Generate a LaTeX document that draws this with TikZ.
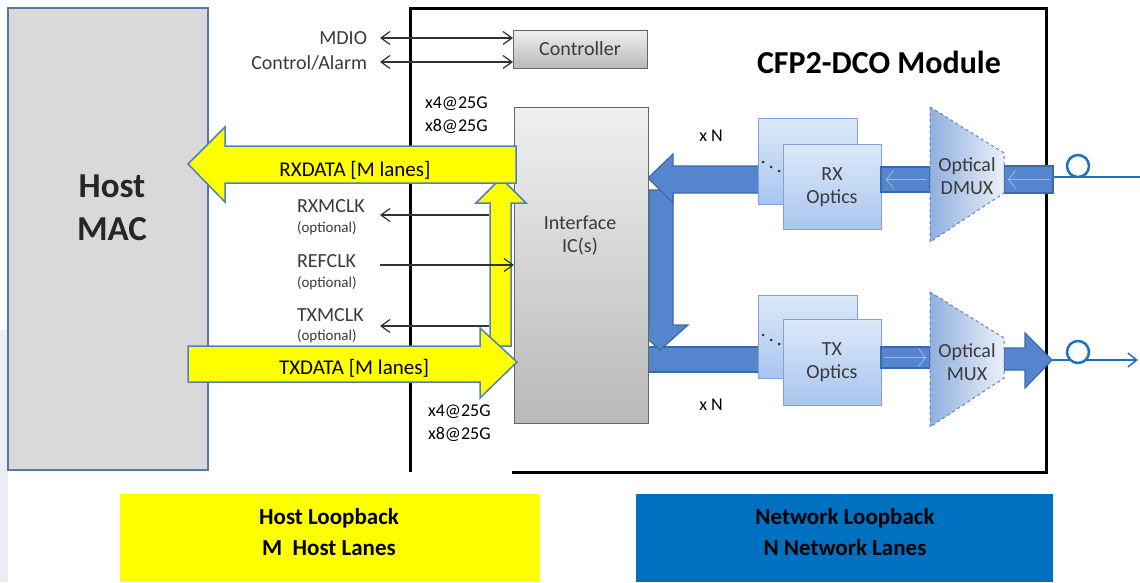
\documentclass[tikz,border=0pt]{standalone}
\usepackage{fontspec}
\setmainfont{Carlito}
\usetikzlibrary{arrows.meta}
\definecolor{bfill}{HTML}{5585CC}
\definecolor{bdraw}{HTML}{3A6AAE}
\definecolor{yfill}{HTML}{FFFF00}
\definecolor{ydraw}{HTML}{4F81BD}
\definecolor{hostfill}{HTML}{D9D9D9}
\definecolor{hostdraw}{HTML}{5577A8}
\definecolor{netbox}{HTML}{0070C0}
\definecolor{optop}{HTML}{DDE9FA}
\definecolor{opbot}{HTML}{A8C5EE}
\definecolor{opdraw}{HTML}{7FA3D9}
\definecolor{labelgray}{HTML}{3A3A3A}
\definecolor{linegray}{HTML}{333333}
\definecolor{fiber}{HTML}{1F70C1}
\definecolor{edge}{HTML}{ECECF5}
\begin{document}
\begin{tikzpicture}[x=1pt,y=-1pt,
  every node/.style={inner sep=0pt,outer sep=0pt},
  lbl/.style={font=\fontsize{20}{23}\selectfont,text=labelgray},
  optl/.style={font=\fontsize{15}{18}\selectfont,text=labelgray},
  rate/.style={font=\fontsize{18}{23}\selectfont,text=black,align=left,anchor=west},
  thinarr/.style={draw=linegray,line width=1.2pt,arrows={-Straight Barb[length=9pt,width=13pt]}},
  dblarr/.style={draw=linegray,line width=1.2pt,arrows={Straight Barb[length=9pt,width=13pt]-Straight Barb[length=9pt,width=13pt]}},
  graybox/.style={draw=gray!80!black,line width=0.8pt,top color=gray!12,bottom color=gray!55},
  opcard/.style={draw=opdraw,line width=1pt,top color=optop,bottom color=opbot},
  yarrow/.style={fill=yfill,draw=ydraw,line width=1.5pt,line join=miter},
  barrow/.style={fill=bfill,draw=bdraw,line width=1.2pt,line join=miter},
  faint/.style={draw=bfill!55!white,line width=0.8pt,arrows={-Straight Barb[length=7pt,width=18pt]}},
  mux/.style={draw=bfill,dashed,line width=1pt,left color=bfill!65!white,right color=bfill!12!white},
  bottxt/.style={font=\bfseries\fontsize{23}{31}\selectfont,align=center,text=black}
]
\useasboundingbox (0,0) rectangle (1140,582);
\fill[edge] (0,330) rectangle (8,582);

% Host MAC
\node[draw=hostdraw,fill=hostfill,line width=2.5pt,minimum width=200pt,minimum height=462pt] (host) at (108,239) {};
\node[font=\bfseries\fontsize{35}{43}\selectfont,align=center,text=black!85] (hostlbl) at (112,208) {Host\\MAC};

% module border
\draw[line width=3pt,line join=miter] (512,472) -- (1046,472) -- (1046,8) -- (410,8) -- (410,472);
\node[font=\bfseries\fontsize{32}{36}\selectfont] (title) at (879,62) {CFP2-DCO Module};

% controller
\node[graybox,minimum width=134pt,minimum height=38pt,lbl] (ctrl) at (580,49) {Controller};
\node[lbl,anchor=east] (mdio) at (367,38) {MDIO};
\node[lbl,anchor=east] (ctl) at (367,63) {Control/Alarm};
\coordinate (mdioL) at (380,38);
\coordinate (ctlL) at (380,62);
\draw[dblarr] (mdioL) -- (ctrl.west |- mdioL);
\draw[dblarr] (ctlL) -- (ctrl.west |- ctlL);

% rates
\node[rate] (rtop) at (425,115.5) {x4@25G\\x8@25G};
\node[rate] (rbot) at (428,423) {x4@25G\\x8@25G};

% network blue paths (behind interface box)
\draw[barrow] (648,347) -- (760,347) -- (760,372) -- (648,372) -- cycle;
\draw[barrow] (649,190) -- (673,190) -- (673,325) -- (688,325) -- (660,350) -- (632,325) -- (649,325) -- cycle;
\draw[barrow] (760,166) -- (673,166) -- (673,154) -- (648,178) -- (673,203) -- (673,193) -- (760,193) -- cycle;

% interface IC
\node[graybox,minimum width=134pt,minimum height=316pt] (ic) at (581,265) {};
\node[lbl,align=center] (iclbl) at (580,236) {Interface\\IC(s)};

% clock signals
\node[lbl,anchor=west] (rxm) at (297,206) {RXMCLK};
\node[optl,anchor=west] (rxmo) at (297,228) {(optional)};
\node[lbl,anchor=west] (ref) at (297,261) {REFCLK};
\node[optl,anchor=west] (refo) at (297,283) {(optional)};
\node[lbl,anchor=west] (txm) at (297,315) {TXMCLK};
\node[optl,anchor=west] (txmo) at (297,336) {(optional)};
\coordinate (rxmR) at (489,215);
\coordinate (rxmL) at (380,215);
\coordinate (refL) at (380,265);
\coordinate (txmR) at (489,326);
\coordinate (txmL) at (380,326);
\draw[thinarr] (rxmR) -- (rxmL);
\draw[thinarr] (txmR) -- (txmL);

% host yellow arrows
\draw[yarrow] (490,346) -- (490,203) -- (476,203) -- (501,178) -- (526,203) -- (511,203) -- (511,346) -- cycle;
\draw[thinarr] (refL) -- (ic.west |- refL);
\draw[yarrow] (516,146) -- (225,146) -- (225,127) -- (188,164) -- (225,202) -- (225,183) -- (516,183) -- cycle;
\draw[yarrow] (188,346) -- (480,346) -- (480,328) -- (517,362) -- (480,398) -- (480,382) -- (188,382) -- cycle;
\node[font=\fontsize{21}{24}\selectfont] (rxdata) at (355,170) {RXDATA [M lanes]};
\node[font=\fontsize{21}{24}\selectfont] (txdata) at (354,368) {TXDATA [M lanes]};

% optics
\node[opcard,minimum width=99pt,minimum height=86pt] (rxback) at (807.5,161) {};
\node[opcard,minimum width=98pt,minimum height=85pt,lbl,align=center] (rxopt) at (832,187) {RX\\Optics};
\node[opcard,minimum width=99pt,minimum height=83pt] (txback) at (807.5,336.5) {};
\node[opcard,minimum width=98pt,minimum height=86pt,lbl,align=center] (txopt) at (832,362) {TX\\Optics};
\foreach \p in {(763,162),(771,167),(779,171),(763,335),(771,340),(779,344)}
  \fill[black!80] \p circle (1.5pt);

% bands between optics and mux
\draw[barrow] (881,167) -- (930,167) -- (930,192) -- (881,192) -- cycle;
\draw[faint] (926,179.5) -- (886,179.5);
\draw[barrow] (1004,166) -- (1053,166) -- (1053,193) -- (1004,193) -- cycle;
\draw[faint] (1050,179.5) -- (1008,179.5);
\draw[barrow] (881,347) -- (930,347) -- (930,368) -- (881,368) -- cycle;
\draw[faint] (884,357.5) -- (926,357.5);
\draw[barrow] (1004,348) -- (1025,348) -- (1025,333) -- (1052,360) -- (1025,388) -- (1025,370) -- (1004,370) -- cycle;

% mux / dmux
\draw[mux] (930,107) -- (1004,153) -- (1004,193) -- (930,242) -- cycle;
\node[lbl,align=center] (dmux) at (967,176) {Optical\\DMUX};
\draw[mux] (930,292) -- (1004,338) -- (1004,378) -- (930,427) -- cycle;
\node[lbl,align=center] (mmux) at (967,362) {Optical\\MUX};

% fibers
\coordinate (rxfR) at (1140,177);
\coordinate (rxfL) at (1053,177);
\coordinate (txfL) at (1052,360);
\coordinate (txfR) at (1138,360);
\draw[fiber,line width=1.5pt] (rxfL) -- (rxfR);
\draw[fiber,line width=1.5pt,arrows={-Straight Barb[length=9pt,width=14pt]}] (txfL) -- (txfR);
\node[circle,draw=fiber,fill=white,line width=2.5pt,minimum size=22pt] (rxc) at (1078,166) {};
\node[circle,draw=fiber,fill=white,line width=2.5pt,minimum size=22pt] (txc) at (1078,352) {};

\node[font=\fontsize{18}{20}\selectfont] (xn1) at (711,136) {x N};
\node[font=\fontsize{18}{20}\selectfont] (xn2) at (711,405) {x N};

% bottom boxes
\node[fill=yfill,minimum width=420pt,minimum height=88pt] (hlb) at (330,538) {};
\node[bottxt] (hlbt) at (329,532) {Host Loopback\\M\ \ Host Lanes};
\node[fill=netbox,minimum width=417pt,minimum height=88pt] (nlb) at (844.5,538) {};
\node[bottxt] (nlbt) at (845,532) {Network Loopback\\N Network Lanes};
\end{tikzpicture}
\end{document}
